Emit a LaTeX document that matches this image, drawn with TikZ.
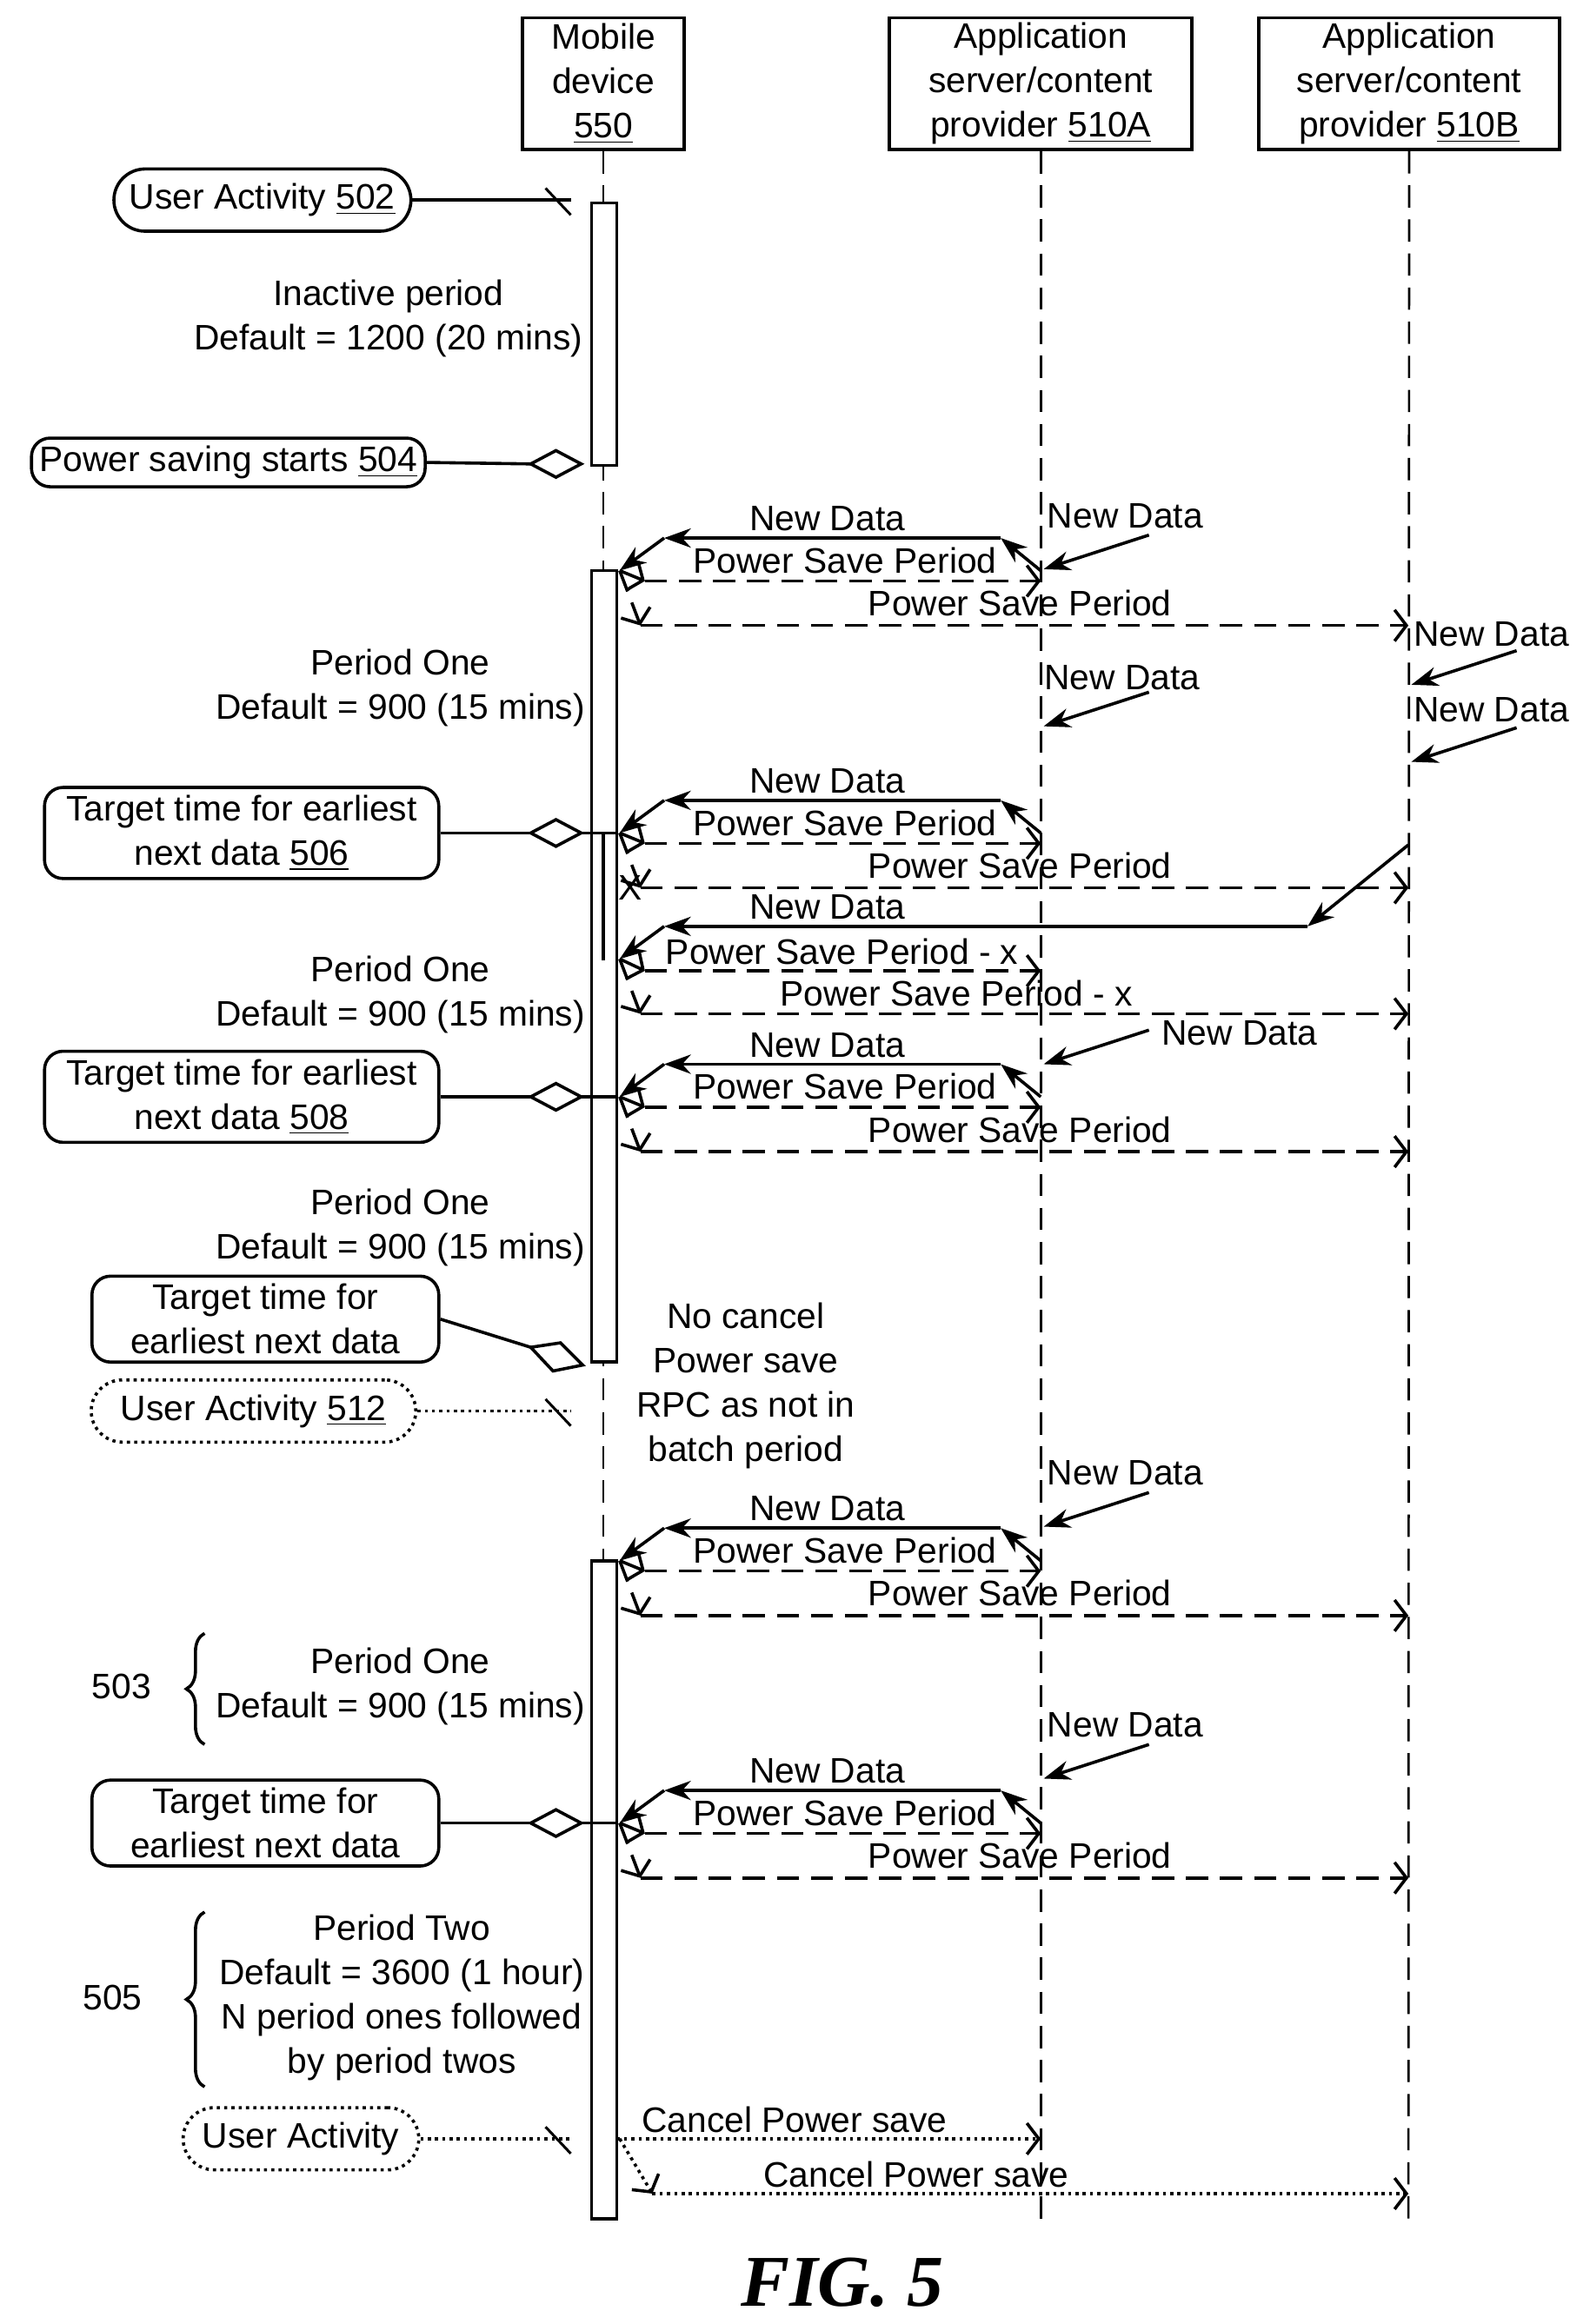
\documentclass[tikz,border=0pt]{standalone}
\usepackage{fontspec}
\setmainfont{Liberation Sans}
\newfontfamily\figfont{Liberation Serif}
\usetikzlibrary{arrows.meta,decorations.pathreplacing}
\tikzset{
  seq/.style = {x = 0.02cm, y = -0.02cm, line width = 1.2pt, every node/.style = {font = \fontsize{13.6}{17}\selectfont, align = center, inner sep = 1pt}},
  headBox/.style = {draw, minimum width = 2.18cm, minimum height = 1.78cm, inner sep = 0pt},
  noteBox/.style = {draw, rounded corners = .25cm, inner sep = 3pt},
  pillBox/.style = {draw, rounded corners = .42cm, minimum height = .84cm, inner xsep = 6pt},
  lifeLine/.style = {line width = .9pt, dash pattern = on .3cm off .16cm},
  activeBar/.style = {draw, fill = white},
  dataArrow/.style = {-{Stealth[length = 3.6mm, width = 2.6mm]}},
  saveArrow/.style = {-{Straight Barb[length = 1.6mm, width = 4.2mm]}},
  dashLine/.style = {dash pattern = on .3cm off .16cm},
  dotLine/.style = {dash pattern = on 1.2pt off 1.6pt}
}
% new data from provider A into the mobile bar
\newcommand{\dataFromA}[1]{
  \draw [dataArrow] (702, #1) -- (675, #1 - 22);
  \draw [dataArrow] (675, #1 - 22) -- (448, #1 - 22);
  \draw [dataArrow] (448, #1 - 22) -- (418, #1);
  \node at (558, #1 - 35) {New Data};
}
% power save period sent to A and B
\newcommand{\savePeriods}[3]{
  \draw [saveArrow] (418, #1) -- (435, #1 + 7);
  \draw [saveArrow, dashLine] (435, #1 + 7) -- (702, #1 + 7);
  \node at (570, #1 - 7) {#2};
  \draw [saveArrow, dashLine] (418, #1) -- (432, #1 + 37);
  \draw [saveArrow, dashLine] (432, #1 + 37) -- (950, #1 + 37);
  \node at (688, #1 + 22) {#3};
}
% incoming data on a lifeline
\newcommand{\dataIn}[3]{
  \draw [dataArrow] (#1 + 73, #2 - 23) -- (#1 + 2, #2);
}
\newcommand{\diamondAt}[1]{
  \draw [fill = white] (358, #1) -- (375, #1 - 9) -- (392, #1) -- (375, #1 + 9) -- cycle;
}
\newcommand{\userTick}[1]{\draw [line width = 1pt] (368, #1 - 8) -- (385, #1 + 10);}
\begin{document}
\begin{tikzpicture}[seq]
  \useasboundingbox (0, 0) rectangle (1072, 1568);

  % heads and lifelines
  \node [headBox] (mobile) at (407, 56.5) {Mobile\\device\\\underline{550}};
  \node [headBox, minimum width = 4.08cm] (provA) at (702, 56.5) {Application\\server/content\\provider \underline{510A}};
  \node [headBox, minimum width = 4.06cm] (provB) at (950.5, 56.5) {Application\\server/content\\provider \underline{510B}};
  \draw [lifeLine] (mobile.south) -- (407, 1497);
  \draw [lifeLine] (provA.south) -- (702, 1497);
  \draw [lifeLine] (provB.south) -- (950, 1497);

  % activation bars
  \filldraw [activeBar] (399, 137) rectangle (416, 314);
  \filldraw [activeBar] (399, 385) rectangle (416, 919);
  \filldraw [activeBar] (399, 1053) rectangle (416, 1497);
  \draw (407, 562) -- (407, 648);

  % left notes
  \node [pillBox] (act502) at (177, 135) {User Activity \underline{502}};
  \draw (act502.east) -- (385, 135);
  \userTick{135}
  \node (inactive) at (262, 215) {Inactive period\\Default = 1200 (20 mins)};
  \node [noteBox] (save504) at (154, 312) {Power saving starts \underline{504}};
  \draw (save504.east) -- (358, 313);
  \diamondAt{313}

  \node (periodA) at (270, 464) {Period One\\Default = 900 (15 mins)};
  \node [noteBox, minimum width = 5.32cm] (target506) at (163, 562) {Target time for earliest\\next data \underline{506}};
  \draw (target506.east) -- (358, 562) (392, 562) -- (416, 562);
  \diamondAt{562}
  \node (periodB) at (270, 671) {Period One\\Default = 900 (15 mins)};
  \node [noteBox, minimum width = 5.32cm] (target508) at (163, 740) {Target time for earliest\\next data \underline{508}};
  \draw (target508.east) -- (358, 740) (392, 740) -- (416, 740);
  \diamondAt{740}
  \node (periodC) at (270, 828) {Period One\\Default = 900 (15 mins)};
  \node [noteBox, minimum width = 4.68cm] (targetC) at (179, 890) {Target time for\\earliest next data};
  \draw (targetC.east) -- (358, 909);
  \draw [fill = white] (358, 909) -- (378, 906) -- (393, 921) -- (373, 925) -- cycle;
  \node [pillBox, dotLine, minimum width = 4.38cm] (act512) at (171, 952) {User Activity \underline{512}};
  \draw [dotLine] (act512.east) -- (385, 952);
  \userTick{952}
  \node (nocancel) at (503, 935) {No cancel\\Power save\\RPC as not in\\batch period};

  \node (periodD) at (270, 1138) {Period One\\Default = 900 (15 mins)};
  \draw [decorate, decoration = {brace, amplitude = 7pt}] (138, 1177) -- (138, 1102);
  \node (lbl503) at (82, 1138) {503};
  \node [noteBox, minimum width = 4.68cm] (targetD) at (179, 1230) {Target time for\\earliest next data};
  \draw (targetD.east) -- (358, 1230) (392, 1230) -- (416, 1230);
  \diamondAt{1230}
  \node (periodTwo) at (271, 1348) {Period Two\\Default = 3600 (1 hour)\\N period ones followed\\by period twos};
  \draw [decorate, decoration = {brace, amplitude = 7pt}] (138, 1408) -- (138, 1290);
  \node (lbl505) at (76, 1348) {505};
  \node [pillBox, dotLine, minimum width = 3.18cm] (actEnd) at (203, 1443) {User Activity};
  \draw [dotLine] (actEnd.east) -- (385, 1443);
  \userTick{1443}

  % batches
  \dataFromA{385}
  \savePeriods{385}{Power Save Period}{Power Save Period}
  \dataIn{702}{384}{}
  \node at (759, 348) {New Data};
  \dataIn{702}{490}{}
  \node at (757, 457) {New Data};
  \dataIn{950}{462}{}
  \node at (1006, 428) {New Data};
  \dataIn{950}{514}{}
  \node at (1006, 479) {New Data};

  \dataFromA{562}
  \savePeriods{562}{Power Save Period}{Power Save Period}
  \node at (425, 599) {X};

  \draw [dataArrow] (950, 570) -- (882, 625);
  \draw [dataArrow] (882, 625) -- (448, 625);
  \draw [dataArrow] (448, 625) -- (418, 647);
  \node at (558, 612) {New Data};
  \draw [saveArrow] (418, 647) -- (435, 655);
  \draw [saveArrow, dashLine] (435, 655) -- (702, 655);
  \node at (568, 642) {Power Save Period - x};
  \draw [saveArrow, dashLine] (418, 647) -- (432, 684);
  \draw [saveArrow, dashLine] (432, 684) -- (950, 684);
  \node at (645, 670) {Power Save Period - x};

  \dataFromA{740}
  \savePeriods{740}{Power Save Period}{Power Save Period}
  \dataIn{702}{718}{}
  \node at (836, 697) {New Data};

  \dataFromA{1053}
  \savePeriods{1053}{Power Save Period}{Power Save Period}
  \dataIn{702}{1030}{}
  \node at (759, 994) {New Data};

  \dataFromA{1230}
  \savePeriods{1230}{Power Save Period}{Power Save Period}
  \dataIn{702}{1200}{}
  \node at (759, 1164) {New Data};

  % cancel
  \draw [saveArrow, dotLine] (416, 1443) -- (702, 1443);
  \node at (536, 1430) {Cancel Power save};
  \draw [saveArrow, dotLine] (418, 1443) -- (440, 1480);
  \draw [saveArrow, dotLine] (440, 1480) -- (950, 1480);
  \node at (618, 1467) {Cancel Power save};

  \node [font = \figfont\bfseries\itshape\fontsize{28}{30}\selectfont] (fig) at (568, 1540) {FIG. 5};
\end{tikzpicture}
\end{document}
